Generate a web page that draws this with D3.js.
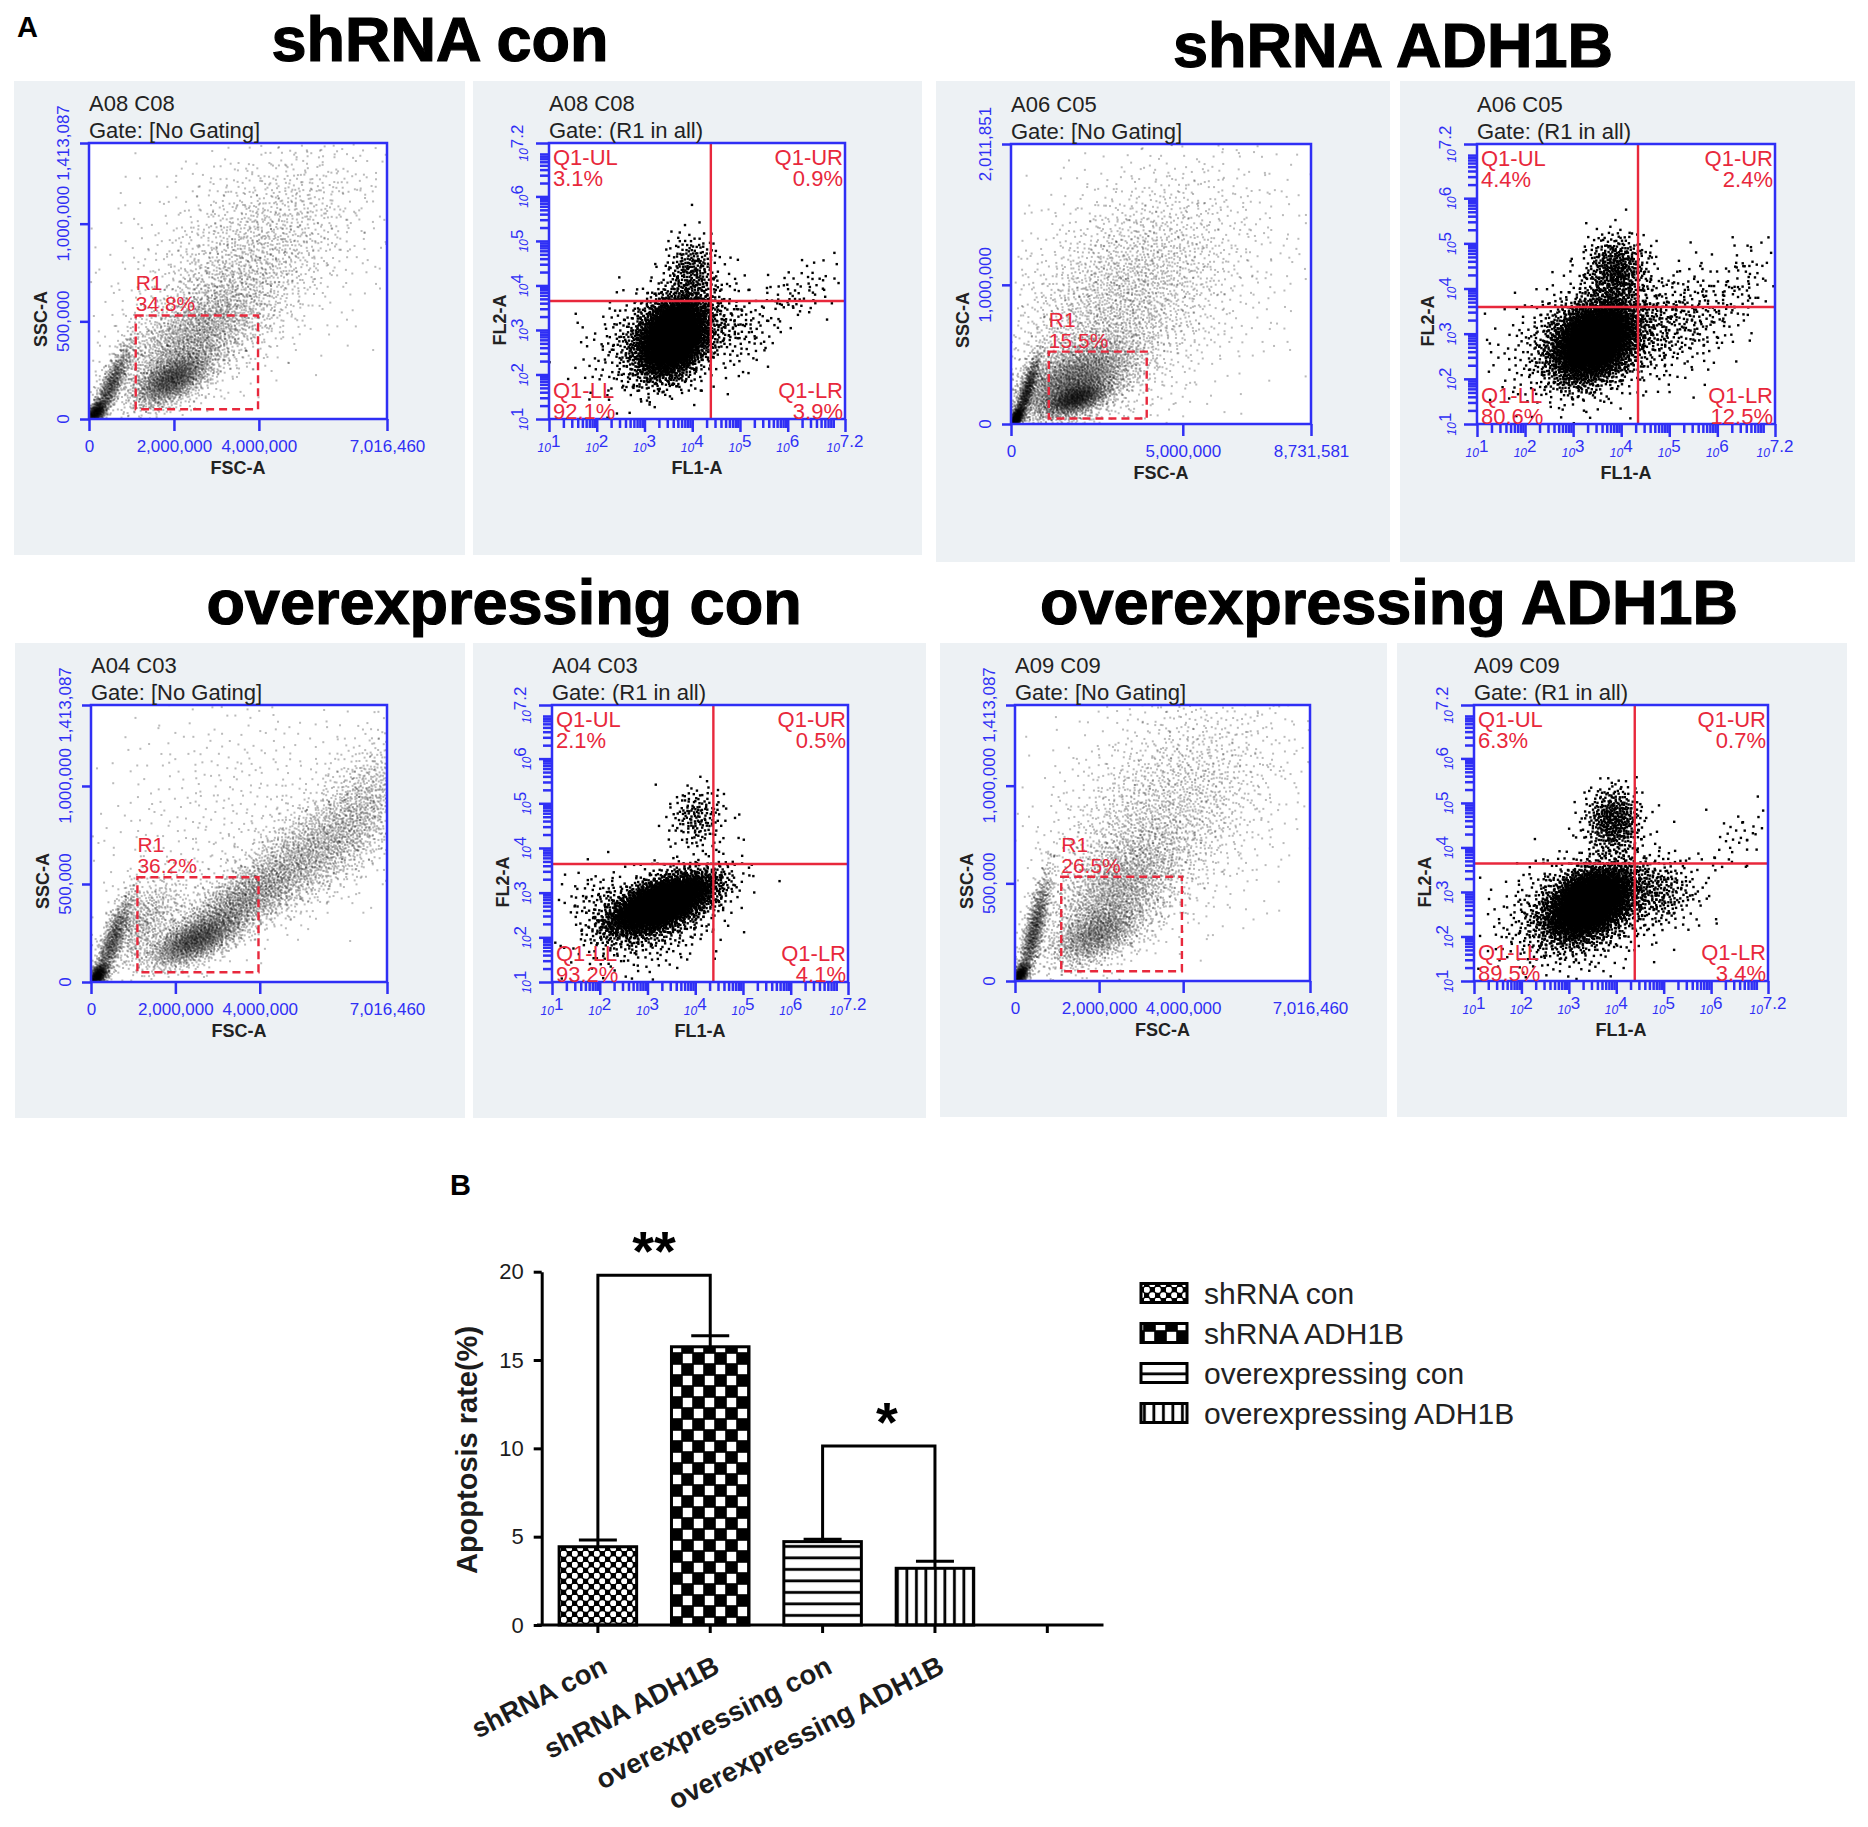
<!DOCTYPE html>
<html><head><meta charset="utf-8">
<script src="https://cdn.jsdelivr.net/npm/d3@7"></script>
<style>
body{margin:0;background:#fff}
svg{display:block}
text{font-family:"Liberation Sans",Arial,Helvetica,sans-serif}
</style>
</head><body>
<svg id="fig" width="1868" height="1827"></svg>
<script>
// ================= DATA =================
// Panel A : flow cytometry
const groupTitles = ["shRNA con", "shRNA ADH1B", "overexpressing con", "overexpressing ADH1B"];
const sampleIds   = ["A08 C08", "A06 C05", "A04 C03", "A09 C09"];
const gateScatter = "Gate: [No Gating]";
const gateQuad    = "Gate: (R1 in all)";
const r1Percent   = [34.8, 15.5, 36.2, 26.5];
const quadUL = [3.1, 4.4, 2.1, 6.3];
const quadUR = [0.9, 2.4, 0.5, 0.7];
const quadLL = [92.1, 80.6, 93.2, 89.5];
const quadLR = [3.9, 12.5, 4.1, 3.4];
const fscMax   = [7016460, 8731581, 7016460, 7016460];
const sscMax   = [1413087, 2011851, 1413087, 1413087];
const fscTicks = [[0, 2000000, 4000000, 7016460], [0, 5000000, 8731581], [0, 2000000, 4000000, 7016460], [0, 2000000, 4000000, 7016460]];
const sscTicks = [[0, 500000, 1000000, 1413087], [0, 1000000, 2011851], [0, 500000, 1000000, 1413087], [0, 500000, 1000000, 1413087]];
// R1 gate: [FSC min, FSC max, SSC min, SSC max]
const r1Gate = [[1100000, 3980000, 50000, 530000], [1100000, 3950000, 40000, 520000], [1100000, 3970000, 50000, 534000], [1100000, 3970000, 50000, 534000]];
// quadrant divider positions (log10 units)
const quadX = [4.39, 4.35, 4.38, 4.39];
const quadY = [3.65, 3.59, 3.64, 3.64];
const logMajor = [1, 2, 3, 4, 5, 6, 7.2];
const logLabels = ["1", "2", "3", "4", "5", "6", "7.2"];
// Event populations: [centre x, centre y, sd x, sd y, correlation, events]
// FSC/SSC in millions
const fscClusters = [
  [[0.15,0.03,0.12,0.03,0.5,500],[0.5,0.16,0.25,0.11,0.85,800],[1.95,0.20,0.45,0.07,0.55,1400],[2.4,0.40,0.9,0.16,0.6,1800],[3.7,0.78,1.3,0.30,0.6,1600],[3.8,0.9,2.0,0.35,0.3,500]],
  [[0.15,0.04,0.10,0.04,0.5,500],[0.45,0.22,0.2,0.14,0.85,700],[1.9,0.18,0.45,0.06,0.5,1000],[1.8,0.30,0.9,0.15,0.5,2600],[3.0,0.8,1.6,0.45,0.5,2400],[4.5,1.1,2.5,0.5,0.2,700]],
  [[0.15,0.03,0.12,0.03,0.5,600],[0.5,0.2,0.25,0.13,0.85,800],[1.2,0.3,0.5,0.12,0.6,600],[2.45,0.21,0.55,0.07,0.6,1600],[3.5,0.40,0.8,0.12,0.7,1500],[5.2,0.66,0.9,0.16,0.6,1500],[6.5,0.92,0.6,0.18,0.5,700],[3.5,0.9,2.0,0.35,0.2,500]],
  [[0.12,0.03,0.10,0.03,0.5,500],[0.45,0.25,0.2,0.15,0.8,1000],[1.9,0.23,0.55,0.08,0.5,1000],[2.4,0.45,0.8,0.16,0.5,1500],[3.4,0.8,1.3,0.3,0.5,1800],[4.0,1.0,2.0,0.4,0.2,500]]
];
// FL1/FL2 in log10 units
const flClusters = [
  [[3.6,2.85,0.38,0.45,0.3,3500],[3.4,2.8,0.75,0.65,0.3,600],[4.0,4.35,0.28,0.4,0,250],[6.2,3.8,0.5,0.4,0.5,80],[4.9,3.0,0.45,0.45,0,120]],
  [[3.45,2.85,0.45,0.45,0.3,3500],[3.5,2.9,0.9,0.7,0.3,900],[3.9,4.4,0.32,0.4,0,500],[5.3,3.3,0.7,0.6,0.3,300],[6.6,4.2,0.4,0.5,0.5,60]],
  [[3.3,2.75,0.55,0.33,0.6,3500],[3.2,2.5,0.75,0.6,0.4,600],[4.05,4.7,0.3,0.35,0,170],[1.9,2.9,0.4,0.3,0,60]],
  [[3.45,2.75,0.45,0.40,0.4,3500],[3.3,2.6,0.85,0.65,0.3,900],[3.95,4.6,0.3,0.38,0,450],[4.9,3.0,0.45,0.4,0,250],[6.6,4.2,0.4,0.4,0.5,40]]
];

// Panel B : apoptosis rate
const categories = ["shRNA con", "shRNA ADH1B", "overexpressing con", "overexpressing ADH1B"];
const apoptosisMean = [4.43, 15.75, 4.72, 3.21];
const apoptosisSD   = [0.38, 0.62, 0.13, 0.40];
const yTicksB = [0, 5, 10, 15, 20];
const sigPairs  = [[0, 1], [2, 3]];
const sigLevels = [19.8, 10.13];
const sigLabels = ["**", "*"];

// ================= LAYOUT =================
const BLUE = "#2f2ff5", RED = "#e8283c", PANEL = "#edf1f4", INK = "#1c1c1c";
const panelBg = [[14,81,451,474],[473,81,449,474],[936,81,454,481],[1400,81,455,481],
                 [15,643,450,475],[473,643,453,475],[940,643,447,474],[1397,643,450,474]];
const frames  = [[89,143,298,276],[549,143,296,276],[1011,144,300,280],[1477,144,298,280],
                 [91,705,296,277],[552,705,296,277],[1015,705,295,276],[1474,705,294,276]];
const titlePos = [[440,61],[1393,67],[504,624],[1389,624]];

const svg = d3.select("#fig");
const defs = svg.append("defs");

// deterministic low-discrepancy sampler used to render each population
function halton(i, b) { let f = 1, r = 0; while (i > 0) { f /= b; r += f * (i % b); i = Math.floor(i / b); } return r; }
let seqIdx = 1;
function populate(cl, scale) {
  const [cx, cy, sx, sy, rho, n] = cl;
  const out = [];
  const k2 = Math.sqrt(1 - rho * rho);
  for (let k = 0; k < n; k++) {
    const id = seqIdx++;
    const u1 = halton(id, 2), u2 = halton(id, 3);
    const rr = Math.sqrt(-2 * Math.log(u1));
    const z1 = rr * Math.cos(2 * Math.PI * u2), z2 = rr * Math.sin(2 * Math.PI * u2);
    out.push([(cx + sx * z1) * scale, (cy + sy * (rho * z1 + k2 * z2)) * scale]);
  }
  return out;
}

// ---- letter A & titles
svg.append("text").attr("x", 17).attr("y", 37).attr("font-size", 29).attr("font-weight", "bold").attr("fill", "#000").text("A");
groupTitles.forEach((t, i) => {
  svg.append("text").attr("x", titlePos[i][0]).attr("y", titlePos[i][1]).attr("text-anchor", "middle")
    .attr("font-size", 63).attr("font-weight", "bold").attr("fill", "#000")
    .attr("stroke", "#000").attr("stroke-width", 1.2).text(t);
});

const fmt = d3.format(",");

function header(g, fx, fy, id, gate) {
  g.append("text").attr("x", fx).attr("y", fy - 32).attr("font-size", 22).attr("fill", "#222").text(id);
  g.append("text").attr("x", fx).attr("y", fy - 5).attr("font-size", 22).attr("fill", "#222").text(gate);
}

function scatterPanel(p, gi) {
  const [fx, fy, fw, fh] = frames[p];
  const g = svg.append("g");
  const [bx, by, bw, bh] = panelBg[p];
  g.append("rect").attr("x", bx).attr("y", by).attr("width", bw).attr("height", bh).attr("fill", PANEL);
  g.append("rect").attr("x", fx).attr("y", fy).attr("width", fw).attr("height", fh).attr("fill", "#fff");
  const x = d3.scaleLinear().domain([0, fscMax[gi]]).range([fx, fx + fw]);
  const y = d3.scaleLinear().domain([0, sscMax[gi]]).range([fy + fh, fy]);
  let pts = [];
  fscClusters[gi].forEach(c => { pts = pts.concat(populate(c, 1e6)); });
  pts = pts.filter(d => d[0] >= 0 && d[1] >= 0 && d[0] <= fscMax[gi] && d[1] <= sscMax[gi]);
  g.append("g").selectAll("rect").data(pts).join("rect")
    .attr("x", d => x(d[0]) - 1).attr("y", d => y(d[1]) - 1).attr("width", 2).attr("height", 2)
    .attr("fill", "#000").attr("fill-opacity", 0.27);
  // gate R1
  const gt = r1Gate[gi];
  g.append("rect").attr("x", x(gt[0])).attr("y", y(gt[3])).attr("width", x(gt[1]) - x(gt[0])).attr("height", y(gt[2]) - y(gt[3]))
    .attr("fill", "none").attr("stroke", RED).attr("stroke-width", 2.4).attr("stroke-dasharray", "8,5");
  g.append("text").attr("x", x(gt[0])).attr("y", y(gt[3]) - 25).attr("font-size", 21).attr("fill", RED).text("R1");
  g.append("text").attr("x", x(gt[0])).attr("y", y(gt[3]) - 4).attr("font-size", 21).attr("fill", RED).text(r1Percent[gi] + "%");
  // axes
  const ax = g.append("g").attr("transform", `translate(0,${fy + fh})`)
    .call(d3.axisBottom(x).tickValues(fscTicks[gi]).tickSize(12).tickSizeOuter(0).tickFormat(fmt).tickPadding(9));
  ax.select(".domain").remove();
  ax.selectAll("line").attr("stroke", BLUE).attr("stroke-width", 2.5);
  ax.selectAll("text").attr("font-size", 17).attr("fill", BLUE).attr("font-family", "Liberation Sans, Arial, sans-serif");
  const ay = g.append("g").attr("transform", `translate(${fx},0)`)
    .call(d3.axisLeft(y).tickValues(sscTicks[gi]).tickSize(9).tickSizeOuter(0).tickFormat(""));
  ay.select(".domain").remove();
  ay.selectAll("line").attr("stroke", BLUE).attr("stroke-width", 2.5);
  g.append("g").selectAll("text").data(sscTicks[gi]).join("text")
    .attr("transform", d => `translate(${fx - 26},${y(d)}) rotate(-90)`)
    .attr("text-anchor", "middle").attr("dominant-baseline", "central")
    .attr("font-size", 17).attr("fill", BLUE).text(d => fmt(d));
  g.append("rect").attr("x", fx).attr("y", fy).attr("width", fw).attr("height", fh)
    .attr("fill", "none").attr("stroke", BLUE).attr("stroke-width", 2.5);
  g.append("text").attr("x", fx + fw / 2).attr("y", fy + fh + 55).attr("text-anchor", "middle")
    .attr("font-size", 18).attr("font-weight", "bold").attr("fill", "#222").text("FSC-A");
  g.append("text").attr("transform", `translate(${fx - 48},${fy + 176}) rotate(-90)`).attr("text-anchor", "middle")
    .attr("dominant-baseline", "central").attr("font-size", 18).attr("font-weight", "bold").attr("fill", "#222").text("SSC-A");
  header(g, fx, fy, sampleIds[gi], gateScatter);
}

function logLabel(sel, i) {
  sel.append("tspan").attr("font-size", 12).attr("font-style", "italic").text("10");
  sel.append("tspan").attr("font-size", 17).attr("dy", -5).text(logLabels[i]);
}

function quadPanel(p, gi) {
  const [fx, fy, fw, fh] = frames[p];
  const g = svg.append("g");
  const [bx, by, bw, bh] = panelBg[p];
  g.append("rect").attr("x", bx).attr("y", by).attr("width", bw).attr("height", bh).attr("fill", PANEL);
  g.append("rect").attr("x", fx).attr("y", fy).attr("width", fw).attr("height", fh).attr("fill", "#fff");
  const x = d3.scaleLinear().domain([1, 7.2]).range([fx, fx + fw]);
  const y = d3.scaleLinear().domain([1, 7.2]).range([fy + fh, fy]);
  let pts = [];
  flClusters[gi].forEach(c => { pts = pts.concat(populate(c, 1)); });
  pts = pts.filter(d => d[0] >= 1 && d[1] >= 1 && d[0] <= 7.2 && d[1] <= 7.2);
  g.append("g").selectAll("rect").data(pts).join("rect")
    .attr("x", d => x(d[0]) - 1.2).attr("y", d => y(d[1]) - 1.2).attr("width", 2.4).attr("height", 2.4)
    .attr("fill", "#000");
  // minor + major ticks
  const minor = [];
  for (let d = 1; d < 7.2; d++) for (let m = 2; m <= 9; m++) { const v = d + Math.log10(m); if (v < 7.2) minor.push(v); }
  const ax = g.append("g").attr("transform", `translate(0,${fy + fh})`);
  ax.call(d3.axisBottom(x).tickValues(minor).tickSize(9).tickSizeOuter(0).tickFormat(""));
  ax.append("g").call(d3.axisBottom(x).tickValues(logMajor).tickSize(13).tickSizeOuter(0).tickFormat(""));
  ax.selectAll(".domain").remove();
  ax.selectAll("line").attr("stroke", BLUE).attr("stroke-width", 2.5);
  const ay = g.append("g").attr("transform", `translate(${fx},0)`);
  ay.call(d3.axisLeft(y).tickValues(minor).tickSize(9).tickSizeOuter(0).tickFormat(""));
  ay.append("g").call(d3.axisLeft(y).tickValues(logMajor).tickSize(13).tickSizeOuter(0).tickFormat(""));
  ay.selectAll(".domain").remove();
  ay.selectAll("line").attr("stroke", BLUE).attr("stroke-width", 2.5);
  g.append("g").selectAll("text").data(logMajor).join("text")
    .attr("x", d => x(d)).attr("y", fy + fh + 33).attr("text-anchor", "middle").attr("fill", BLUE)
    .each(function (d, i) { logLabel(d3.select(this), i); });
  g.append("g").selectAll("text").data(logMajor).join("text")
    .attr("transform", d => `translate(${fx - 21},${y(d)}) rotate(-90)`).attr("text-anchor", "middle").attr("fill", BLUE)
    .each(function (d, i) { logLabel(d3.select(this), i); });
  // quadrant lines
  g.append("line").attr("x1", x(quadX[gi])).attr("x2", x(quadX[gi])).attr("y1", fy).attr("y2", fy + fh).attr("stroke", RED).attr("stroke-width", 2.4);
  g.append("line").attr("x1", fx).attr("x2", fx + fw).attr("y1", y(quadY[gi])).attr("y2", y(quadY[gi])).attr("stroke", RED).attr("stroke-width", 2.4);
  g.append("rect").attr("x", fx).attr("y", fy).attr("width", fw).attr("height", fh)
    .attr("fill", "none").attr("stroke", BLUE).attr("stroke-width", 2.5);
  const ql = [["Q1-UL", quadUL[gi], "start", fx + 4, fy + 22], ["Q1-UR", quadUR[gi], "end", fx + fw - 2, fy + 22],
              ["Q1-LL", quadLL[gi], "start", fx + 4, fy + fh - 21], ["Q1-LR", quadLR[gi], "end", fx + fw - 2, fy + fh - 21]];
  ql.forEach(q => {
    g.append("text").attr("x", q[3]).attr("y", q[4]).attr("text-anchor", q[2]).attr("font-size", 22).attr("fill", RED).text(q[0]);
    g.append("text").attr("x", q[3]).attr("y", q[4] + 21).attr("text-anchor", q[2]).attr("font-size", 22).attr("fill", RED).text(q[1] + "%");
  });
  g.append("text").attr("x", fx + fw / 2).attr("y", fy + fh + 55).attr("text-anchor", "middle")
    .attr("font-size", 18).attr("font-weight", "bold").attr("fill", "#222").text("FL1-A");
  g.append("text").attr("transform", `translate(${fx - 49},${fy + 177}) rotate(-90)`).attr("text-anchor", "middle")
    .attr("dominant-baseline", "central").attr("font-size", 18).attr("font-weight", "bold").attr("fill", "#222").text("FL2-A");
  header(g, fx, fy, sampleIds[gi], gateQuad);
}

for (let gi = 0; gi < 4; gi++) { scatterPanel(gi * 2, gi); quadPanel(gi * 2 + 1, gi); }

// ================= PANEL B =================
// patterns
const p1 = defs.append("pattern").attr("id", "pat0").attr("patternUnits", "userSpaceOnUse").attr("width", 11).attr("height", 11);
p1.append("rect").attr("width", 11).attr("height", 11).attr("fill", "#000");
p1.append("circle").attr("cx", 2.75).attr("cy", 2.75).attr("r", 3.1).attr("fill", "#fff");
p1.append("circle").attr("cx", 8.25).attr("cy", 8.25).attr("r", 3.1).attr("fill", "#fff");
const p2 = defs.append("pattern").attr("id", "pat1").attr("patternUnits", "userSpaceOnUse").attr("width", 22).attr("height", 22);
p2.append("rect").attr("width", 22).attr("height", 22).attr("fill", "#000");
p2.append("rect").attr("x", 11.8).attr("y", 0.8).attr("width", 9.4).attr("height", 9.4).attr("fill", "#fff");
p2.append("rect").attr("x", 0.8).attr("y", 11.8).attr("width", 9.4).attr("height", 9.4).attr("fill", "#fff");
const p3 = defs.append("pattern").attr("id", "pat2").attr("patternUnits", "userSpaceOnUse").attr("width", 11).attr("height", 11.5);
p3.append("rect").attr("width", 11).attr("height", 11.5).attr("fill", "#fff");
p3.append("rect").attr("y", 4).attr("width", 11).attr("height", 2.8).attr("fill", "#000");
const p4 = defs.append("pattern").attr("id", "pat3").attr("patternUnits", "userSpaceOnUse").attr("width", 9.5).attr("height", 10);
p4.append("rect").attr("width", 9.5).attr("height", 10).attr("fill", "#fff");
p4.append("rect").attr("x", 3).attr("width", 2.8).attr("height", 10).attr("fill", "#000");

const gB = svg.append("g");
gB.append("text").attr("x", 450).attr("y", 1195).attr("font-size", 29).attr("font-weight", "bold").attr("fill", "#000").text("B");

const yB = d3.scaleLinear().domain([0, 20]).range([1625, 1271.7]);
const xB = d3.scaleBand().domain(categories.concat([" "])).range([541.7, 1103.5]).paddingInner(0.31).paddingOuter(0.155);
const cx = c => xB(c) + xB.bandwidth() / 2;

// bars
gB.append("g").selectAll("rect").data(categories).join("rect")
  .attr("x", d => xB(d)).attr("width", xB.bandwidth())
  .attr("y", (d, i) => yB(apoptosisMean[i])).attr("height", (d, i) => yB(0) - yB(apoptosisMean[i]))
  .attr("fill", (d, i) => `url(#pat${i})`).attr("stroke", "#000").attr("stroke-width", 3);
// error bars
categories.forEach((c, i) => {
  const top = yB(apoptosisMean[i] + apoptosisSD[i]);
  gB.append("line").attr("x1", cx(c)).attr("x2", cx(c)).attr("y1", yB(apoptosisMean[i])).attr("y2", top).attr("stroke", "#000").attr("stroke-width", 3);
  gB.append("line").attr("x1", cx(c) - 19).attr("x2", cx(c) + 19).attr("y1", top).attr("y2", top).attr("stroke", "#000").attr("stroke-width", 3);
});
// axes
const axY = gB.append("g").attr("transform", "translate(541.7,0)")
  .call(d3.axisLeft(yB).tickValues(yTicksB).tickSize(8).tickSizeOuter(0).tickPadding(10));
axY.select(".domain").attr("stroke-width", 3);
axY.selectAll("line").attr("stroke-width", 3);
axY.selectAll("text").attr("font-size", 22).attr("fill", INK).attr("font-family", "Liberation Sans, Arial, sans-serif");
const axX = gB.append("g").attr("transform", "translate(0,1625)")
  .call(d3.axisBottom(xB).tickSize(8).tickSizeOuter(0).tickFormat(""));
axX.select(".domain").attr("d", "M537,0H1103.5").attr("stroke-width", 3);
axX.selectAll("line").attr("stroke-width", 3);
// rotated category labels
gB.append("g").selectAll("text").data(categories).join("text")
  .attr("transform", d => `translate(${cx(d) + 11},1672) rotate(-27)`)
  .attr("text-anchor", "end").attr("font-size", 27.5).attr("font-weight", "bold").attr("fill", INK).text(d => d);
// y title
gB.append("text").attr("transform", "translate(467,1450) rotate(-90)").attr("text-anchor", "middle")
  .attr("dominant-baseline", "central").attr("font-size", 29).attr("font-weight", "bold").attr("fill", INK).text("Apoptosis rate(%)");
// significance brackets
sigPairs.forEach((pr, k) => {
  const [a, b] = pr;
  const ca = cx(categories[a]), cb = cx(categories[b]);
  const ly = yB(sigLevels[k]);
  gB.append("path").attr("d", `M${ca},${yB(apoptosisMean[a] + apoptosisSD[a])}V${ly}H${cb}V${yB(apoptosisMean[b] + apoptosisSD[b])}`)
    .attr("fill", "none").attr("stroke", "#000").attr("stroke-width", 3);
  gB.append("text").attr("x", (ca + cb) / 2 + (k === 1 ? 8 : 0)).attr("y", ly - 5).attr("text-anchor", "middle")
    .attr("font-size", 56).attr("font-weight", "bold").attr("fill", "#000").text(sigLabels[k]);
});
// legend
categories.forEach((c, i) => {
  const ry = 1293 + 40 * i;
  gB.append("rect").attr("x", 1141).attr("y", ry - 9.5).attr("width", 46).attr("height", 19)
    .attr("fill", `url(#pat${i})`).attr("stroke", "#000").attr("stroke-width", 3);
  gB.append("text").attr("x", 1204).attr("y", ry).attr("dominant-baseline", "central")
    .attr("font-size", 30).attr("fill", "#222").text(c);
});
</script>
</body></html>
